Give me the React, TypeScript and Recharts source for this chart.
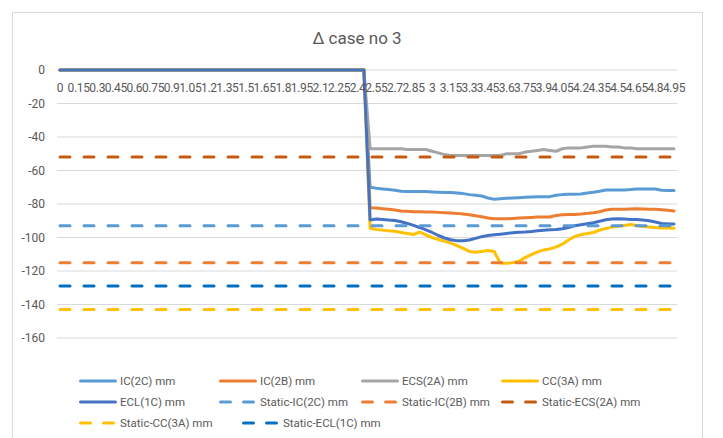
import React from "react";
import { LineChart, Line, XAxis, YAxis, CartesianGrid, Legend } from "recharts";

// time axis, every 0.05 (Excel shows every 3rd label)
const categories = [
  "0", "0.05", "0.1", "0.15", "0.2", "0.25", "0.3", "0.35", "0.4", "0.45",
  "0.5", "0.55", "0.6", "0.65", "0.7", "0.75", "0.8", "0.85", "0.9", "0.95",
  "1", "1.05", "1.1", "1.15", "1.2", "1.25", "1.3", "1.35", "1.4", "1.45",
  "1.5", "1.55", "1.6", "1.65", "1.7", "1.75", "1.8", "1.85", "1.9", "1.95",
  "2", "2.05", "2.1", "2.15", "2.2", "2.25", "2.3", "2.35", "2.4", "2.45",
  "2.5", "2.55", "2.6", "2.65", "2.7", "2.75", "2.8", "2.85", "2.9", "2.95",
  "3", "3.05", "3.1", "3.15", "3.2", "3.25", "3.3", "3.35", "3.4", "3.45",
  "3.5", "3.55", "3.6", "3.65", "3.7", "3.75", "3.8", "3.85", "3.9", "3.95",
  "4", "4.05", "4.1", "4.15", "4.2", "4.25", "4.3", "4.35", "4.4", "4.45",
  "4.5", "4.55", "4.6", "4.65", "4.7", "4.75", "4.8", "4.85", "4.9", "4.95",
];

const ic2c = [
  0, 0, 0, 0, 0, 0, 0, 0, 0, 0, 0, 0, 0, 0, 0, 0, 0, 0, 0, 0, 0, 0, 0, 0, 0,
  0, 0, 0, 0, 0, 0, 0, 0, 0, 0, 0, 0, 0, 0, 0, 0, 0, 0, 0, 0, 0, 0, 0, 0, 0,
  -70, -70.6, -71, -71.4, -71.8, -72.4, -72.6, -72.6, -72.6, -72.6,
  -72.8, -73, -73.2, -73.2, -73.4, -73.8, -74.4, -74.8, -75.2, -76.4,
  -77.2, -76.8, -76.6, -76.4, -76.2, -76, -75.8, -75.6, -75.6, -75.6,
  -74.8, -74.4, -74.2, -74.2, -74, -73.4, -73, -72.4, -71.6, -71.6,
  -71.6, -71.6, -71.4, -71, -71, -71, -71, -71.8, -72, -72,
];

const ic2b = [
  0, 0, 0, 0, 0, 0, 0, 0, 0, 0, 0, 0, 0, 0, 0, 0, 0, 0, 0, 0, 0, 0, 0, 0, 0,
  0, 0, 0, 0, 0, 0, 0, 0, 0, 0, 0, 0, 0, 0, 0, 0, 0, 0, 0, 0, 0, 0, 0, 0, 0,
  -82.2, -82.4, -82.8, -83.2, -83.6, -84.2, -84.4, -84.6, -84.6, -84.8,
  -84.8, -85, -85.2, -85.4, -85.6, -86, -86.4, -87, -87.6, -88.4,
  -88.8, -88.8, -88.8, -88.6, -88.4, -88.2, -88, -87.8, -87.8, -87.8,
  -86.8, -86.4, -86.2, -86.2, -86, -85.6, -85.2, -84.6, -83.6, -83.2,
  -83.2, -83.2, -83, -82.8, -83, -83.2, -83.2, -83.4, -83.8, -84.2,
];

const ecs2a = [
  0, 0, 0, 0, 0, 0, 0, 0, 0, 0, 0, 0, 0, 0, 0, 0, 0, 0, 0, 0, 0, 0, 0, 0, 0,
  0, 0, 0, 0, 0, 0, 0, 0, 0, 0, 0, 0, 0, 0, 0, 0, 0, 0, 0, 0, 0, 0, 0, 0, 0,
  -47, -47, -47, -47, -47, -47, -47.5, -47.5, -47.5, -47.5,
  -48.5, -49.5, -50.5, -51, -51, -51, -51, -51, -51, -51,
  -51, -51, -50, -50, -50, -49, -48.5, -48, -47.5, -48,
  -48.5, -47, -46.5, -46.5, -46.5, -46, -45.5, -45.5, -45.5, -46,
  -46, -46.5, -46.5, -47, -47, -47, -47, -47, -47, -47,
];

const cc3a = [
  0, 0, 0, 0, 0, 0, 0, 0, 0, 0, 0, 0, 0, 0, 0, 0, 0, 0, 0, 0, 0, 0, 0, 0, 0,
  0, 0, 0, 0, 0, 0, 0, 0, 0, 0, 0, 0, 0, 0, 0, 0, 0, 0, 0, 0, 0, 0, 0, 0, 0,
  -94.5, -95.2, -95.6, -96, -96.3, -97, -97.6, -98.2, -96.8, -98.5,
  -100, -101.2, -102.2, -103.3, -104.8, -106.5, -108.3, -108.8, -108.3, -107.8,
  -108.4, -115.2, -115.4, -115, -114.2, -112, -110.2, -108.6, -107.4, -106.8,
  -105.6, -104, -101.5, -99.4, -98.4, -97.6, -97, -95.6, -94.6, -93.8,
  -93.3, -92.8, -92.3, -92.8, -93.5, -93.8, -94.1, -94.3, -94.4, -94.5,
];

const ecl1c = [
  0, 0, 0, 0, 0, 0, 0, 0, 0, 0, 0, 0, 0, 0, 0, 0, 0, 0, 0, 0, 0, 0, 0, 0, 0,
  0, 0, 0, 0, 0, 0, 0, 0, 0, 0, 0, 0, 0, 0, 0, 0, 0, 0, 0, 0, 0, 0, 0, 0, 0,
  -89.5, -89, -89.2, -89.6, -89.8, -90.6, -91.6, -92.8, -94, -95.5,
  -97, -98.8, -100.3, -101.3, -101.9, -102, -101.5, -100.5, -99.5, -98.8,
  -98.4, -98, -97.6, -97.2, -96.9, -96.7, -96.4, -96, -95.7, -95.4,
  -95.2, -94.8, -94, -93, -92.4, -91.8, -91.2, -90.3, -89.4, -89,
  -88.8, -89, -89.2, -89.2, -89.5, -90, -90.8, -91.6, -91.8, -91.9,
];

// static limits (flat lines)
const staticIC2C = -93;
const staticIC2B = -115;
const staticECS2A = -52;
const staticCC3A = -143;
const staticECL1C = -129;

const yTicks = [0, -20, -40, -60, -80, -100, -120, -140, -160];

const series = [
  { key: "ic2c", name: "IC(2C) mm", color: "#5B9BD5", dashed: false },
  { key: "ic2b", name: "IC(2B) mm", color: "#ED7D31", dashed: false },
  { key: "ecs2a", name: "ECS(2A) mm", color: "#A5A5A5", dashed: false },
  { key: "cc3a", name: "CC(3A) mm", color: "#FFC000", dashed: false },
  { key: "ecl1c", name: "ECL(1C) mm", color: "#4472C4", dashed: false },
  { key: "sIc2c", name: "Static-IC(2C) mm", color: "#5B9BD5", dashed: true },
  { key: "sIc2b", name: "Static-IC(2B) mm", color: "#ED7D31", dashed: true },
  { key: "sEcs2a", name: "Static-ECS(2A) mm", color: "#C55A11", dashed: true },
  { key: "sCc3a", name: "Static-CC(3A) mm", color: "#FFC000", dashed: true },
  { key: "sEcl1c", name: "Static-ECL(1C) mm", color: "#0070C0", dashed: true },
];

const data = categories.map((x, i) => ({
  x,
  ic2c: ic2c[i],
  ic2b: ic2b[i],
  ecs2a: ecs2a[i],
  cc3a: cc3a[i],
  ecl1c: ecl1c[i],
  sIc2c: staticIC2C,
  sIc2b: staticIC2B,
  sEcs2a: staticECS2A,
  sCc3a: staticCC3A,
  sEcl1c: staticECL1C,
}));

const FONT = "Roboto, 'Liberation Sans', sans-serif";
const GREY = "#595959";
const PLOT_TOP = 70;

const XTick = (props: any) => {
  const { x, payload } = props;
  return (
    <text x={x} y={PLOT_TOP + 22} textAnchor="middle" fill={GREY} fontSize={12} fontFamily={FONT} letterSpacing={-0.3}>
      {payload.value}
    </text>
  );
};

// legend laid out like Excel's: 4 per row, last row shorter
const ROW_H = 21;
const legendRows = [
  { left: [79, 219, 361, 501], keys: ["ic2c", "ic2b", "ecs2a", "cc3a"] },
  { left: [79, 219, 361, 501], keys: ["ecl1c", "sIc2c", "sIc2b", "sEcs2a"] },
  { left: [79, 242], keys: ["sCc3a", "sEcl1c"] },
];

const LegendBox = () => (
  <div style={{ position: "relative", width: 723, height: ROW_H * 3, fontFamily: FONT, fontSize: 11.5, color: GREY }}>
    {legendRows.map((row, r) =>
      row.keys.map((k, j) => {
        const s = series.find((it) => it.key === k)!;
        return (
          <div
            key={k}
            style={{
              position: "absolute",
              left: row.left[j],
              top: r * ROW_H,
              height: ROW_H,
              display: "flex",
              alignItems: "center",
              whiteSpace: "nowrap",
            }}
          >
            <svg width={38} height={8} style={{ marginRight: 3 }}>
              <line
                x1={1.5}
                y1={4}
                x2={36.5}
                y2={4}
                stroke={s.color}
                strokeWidth={3}
                strokeLinecap="round"
                strokeDasharray={s.dashed ? "10 13" : undefined}
              />
            </svg>
            <span>{s.name}</span>
          </div>
        );
      })
    )}
  </div>
);

export default function App() {
  return (
    <div style={{ position: "absolute", left: 0, top: 0, width: 723, height: 438, background: "#fff", overflow: "hidden" }}>
      <div
        style={{
          position: "absolute",
          left: 12,
          top: 12,
          width: 689,
          height: 440,
          border: "1px solid #D9D9D9",
        }}
      />
      <div
        style={{
          position: "absolute",
          left: 0,
          width: 714,
          top: 27,
          textAlign: "center",
          fontFamily: FONT,
          fontSize: 17,
          color: GREY,
          lineHeight: "22px",
        }}
      >
        Δ case no 3
      </div>
      <div style={{ position: "absolute", left: 0, top: 0 }}>
        <LineChart width={723} height={438} data={data} margin={{ top: 50, right: 46, bottom: 100, left: 0 }}>
          <CartesianGrid vertical={false} stroke="#D9D9D9" />
          <XAxis
            dataKey="x"
            orientation="top"
            height={20}
            interval={2}
            axisLine={false}
            tickLine={false}
            tick={<XTick />}
            padding={{ left: 3, right: 3 }}
          />
          <YAxis
            width={57}
            domain={[-160, 0]}
            ticks={yTicks}
            axisLine={false}
            tickLine={false}
            tickMargin={6}
            tick={{ fill: GREY, fontSize: 12, fontFamily: FONT }}
          />
          {series.map((s) => (
            <Line
              key={s.key}
              dataKey={s.key}
              name={s.name}
              type="linear"
              stroke={s.color}
              strokeWidth={3}
              strokeDasharray={s.dashed ? "10 14" : undefined}
              strokeLinecap="round"
              strokeLinejoin="round"
              dot={false}
              activeDot={false}
              isAnimationActive={false}
            />
          ))}
          <Legend
            layout="horizontal"
            verticalAlign="middle"
            align="center"
            content={<LegendBox />}
            wrapperStyle={{ top: 370, left: 0, bottom: "auto", width: 723 }}
          />
        </LineChart>
      </div>
    </div>
  );
}
